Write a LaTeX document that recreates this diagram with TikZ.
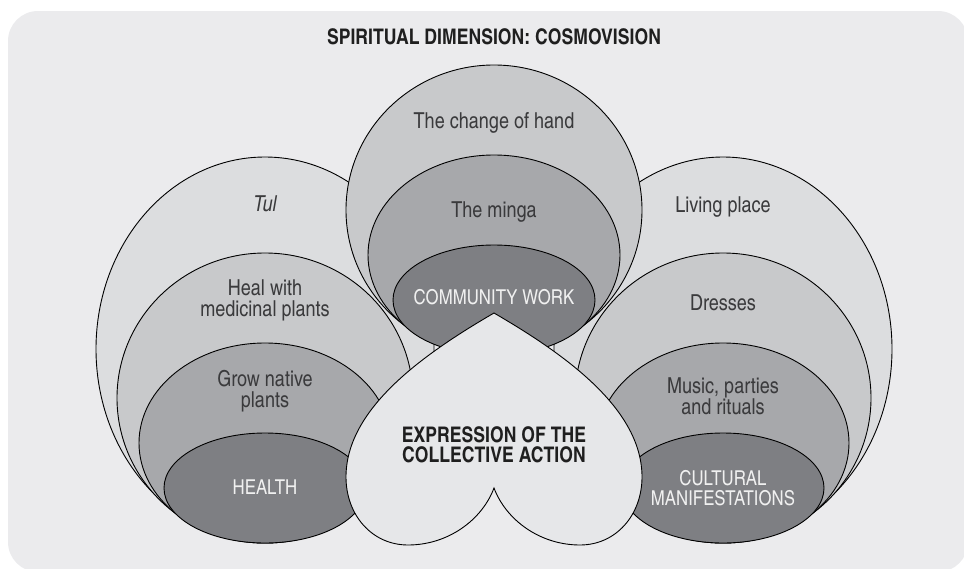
\documentclass[tikz,border=0pt]{standalone}
\usepackage{fontspec}
\setmainfont{texgyreheroscn}[Extension=.otf, UprightFont=*-regular, BoldFont=*-bold, ItalicFont=*-italic, BoldItalicFont=*-bolditalic]
\usepackage{xcolor}
\definecolor{panelgrey}{HTML}{EBEBED}
\definecolor{ringone}{HTML}{DCDDDF}
\definecolor{ringtwo}{HTML}{C8C9CB}
\definecolor{ringthree}{HTML}{A7A8AB}
\definecolor{ringcore}{HTML}{7E7F83}
\definecolor{heartgrey}{HTML}{E6E7E9}
\definecolor{textdark}{HTML}{3A3A3C}

\begin{document}
\begin{tikzpicture}[
    x=1pt, y=-1pt,
    ring/.style={draw=black, line width=0.9pt},
    outer/.style={ring, fill=ringone},
    second/.style={ring, fill=ringtwo},
    third/.style={ring, fill=ringthree},
    core/.style={ring, fill=ringcore},
    heart/.style={draw=black, line width=0.9pt, fill=heartgrey},
    txt/.style={font=\fontsize{22}{21}\selectfont, align=center, text=textdark},
    coretxt/.style={txt, font=\fontsize{20.5}{20.5}\selectfont, text=white!94!black},
    bold/.style={font=\fontsize{21.5}{20.5}\selectfont\bfseries, align=center, text=black!88}
]
\useasboundingbox (0,0) rectangle (964,568);
\fill[panelgrey, rounded corners=30pt] (8,11) rectangle (968,572);

% left and right groups
\path[outer]  (265,349) ellipse [x radius=169pt, y radius=192pt];
\path[second] (265,398) ellipse [x radius=148pt, y radius=145pt];
\path[third]  (265,443) ellipse [x radius=126pt, y radius=100pt];
\path[core]   (265,488) ellipse [x radius=101pt, y radius=55pt];

\path[outer]  (723,349) ellipse [x radius=169pt, y radius=192pt];
\path[second] (723,398) ellipse [x radius=148pt, y radius=145pt];
\path[third]  (723,443) ellipse [x radius=126pt, y radius=100pt];
\path[core]   (723,488) ellipse [x radius=101pt, y radius=55pt];

% centre group on top
\path[second] (494,210) ellipse [x radius=148pt, y radius=145pt];
\path[third]  (494,255) ellipse [x radius=126pt, y radius=100pt];
\path[core]   (494,300) ellipse [x radius=101pt, y radius=55pt];

% upside-down heart
\draw[heart] (494,313)
    .. controls (420,356) and (346,410) .. (346,477)
    .. controls (346,515) and (372,545) .. (408,545)
    .. controls (448,545) and (482,520) .. (494,488)
    .. controls (506,520) and (540,545) .. (580,545)
    .. controls (616,545) and (642,515) .. (642,477)
    .. controls (642,410) and (568,356) .. (494,313) -- cycle;

% labels
\node[bold] (title) at (494,37) {SPIRITUAL DIMENSION: COSMOVISION};

\node[txt] (tul) at (265,204) {\itshape Tul};
\node[txt] (heal) at (265,300) {Heal with\\medicinal plants};
\node[txt] (grow) at (265,391) {Grow native\\plants};
\node[coretxt] (health) at (265,487) {HEALTH};

\node[txt] (hand) at (494,123) {The change of hand};
\node[txt] (minga) at (494,212) {The minga};
\node[coretxt] (community) at (494,297) {COMMUNITY WORK};

\node[txt] (living) at (723,207) {Living place};
\node[txt] (dresses) at (723,303) {Dresses};
\node[txt] (music) at (723,396) {Music, parties\\and rituals};
\node[coretxt] (cultural) at (723,488) {CULTURAL\\MANIFESTATIONS};

\node[bold] (collective) at (494,445) {EXPRESSION OF THE\\COLLECTIVE ACTION};
\end{tikzpicture}
\end{document}
